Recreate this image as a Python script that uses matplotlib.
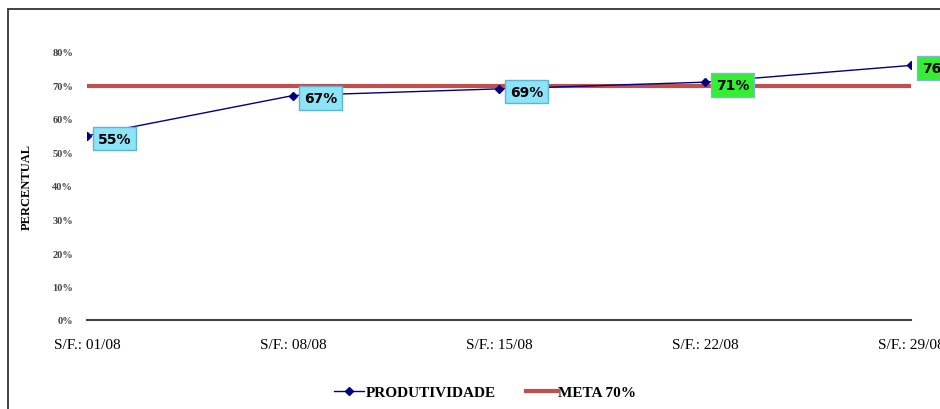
import matplotlib.pyplot as plt
from matplotlib.patches import Rectangle

semanas = ['S/F.: 01/08', 'S/F.: 08/08', 'S/F.: 15/08', 'S/F.: 22/08', 'S/F.: 29/08']
produtividade = [0.55, 0.67, 0.69, 0.71, 0.76]
meta = [0.70, 0.70, 0.70, 0.70, 0.70]
yticks = [0, 0.1, 0.2, 0.3, 0.4, 0.5, 0.6, 0.7, 0.8]

serif = 'Liberation Serif'

fig = plt.figure(figsize=(9.4, 4.1), dpi=100)
ax = fig.add_axes([87 / 940, 1 - 321 / 410, 824 / 940, 268 / 410])

# outer chart frame
fig.patches.append(Rectangle((8 / 940, -0.1), 1.2, 1 - 10 / 410 + 0.1,
                             transform=fig.transFigure, fill=False,
                             edgecolor='#333333', linewidth=1.3))

x = list(range(len(semanas)))
l_prod, = ax.plot(x, produtividade, color='#000080', linewidth=1, marker='D',
                  markersize=4.5, label='PRODUTIVIDADE', zorder=3)
l_meta, = ax.plot(x, meta, color='#c0504d', linewidth=3, label='META 70%',
                  zorder=2)

for xi, v in zip(x, produtividade):
    face = '#33ee33' if v >= 0.70 else '#8ee4f7'
    edge = '#7fb8d0' if v >= 0.70 else '#5fb4cf'
    ax.annotate(f'{v * 100:.0f}%', (xi, v), xytext=(8, -2),
                textcoords='offset points', ha='left', va='center',
                fontsize=10, fontweight='bold', family='DejaVu Sans',
                annotation_clip=False, zorder=5,
                bbox=dict(boxstyle='square,pad=0.35', facecolor=face,
                          edgecolor=edge, linewidth=1))

ax.set_xlim(0, 4)
ax.set_ylim(0, 0.8)
ax.set_xticks(x)
ax.set_xticklabels(semanas, family=serif, fontsize=11)
ax.set_yticks(yticks)
ax.set_yticklabels([f'{t * 100:.0f}%' for t in yticks], family=serif,
                   fontsize=7.5, fontweight='bold', color='#444444')
ax.tick_params(axis='x', length=0, pad=13)
ax.tick_params(axis='y', length=0, pad=10)

for s in ['top', 'right', 'left']:
    ax.spines[s].set_visible(False)
ax.spines['bottom'].set_color('#444444')
ax.spines['bottom'].set_linewidth(1.5)

ax.set_ylabel('PERCENTUAL', family=serif, fontweight='bold', fontsize=9,
              labelpad=14)

fig.legend(handles=[l_prod, l_meta], loc='center',
           bbox_to_anchor=(485 / 940, 1 - 393 / 410),
           ncol=2, frameon=False, handlelength=2.0, columnspacing=2.0,
           handletextpad=0.1,
           prop={'family': serif, 'weight': 'bold', 'size': 11})

fig.savefig('out.png', dpi=100)
